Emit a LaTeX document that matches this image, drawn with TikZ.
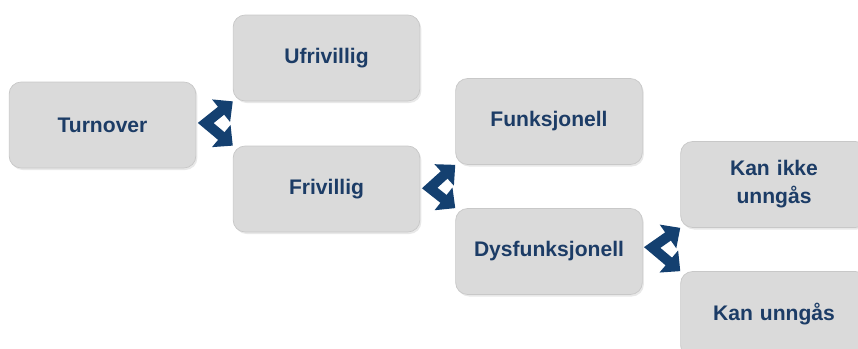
\documentclass[tikz,border=0pt]{standalone}
\usepackage{fontspec}
\setmainfont{Liberation Sans}
\usetikzlibrary{shapes,arrows.meta,shadows}
\definecolor{boxgray}{RGB}{218,218,218}
\definecolor{boxline}{RGB}{200,200,200}
\definecolor{textnavy}{RGB}{28,60,102}
\definecolor{arrownavy}{RGB}{20,64,112}
\tikzstyle{block} = [rectangle, draw=boxline, fill=boxgray, text=textnavy,
    font=\fontsize{12}{16}\selectfont\bfseries, text width=3.5cm, text centered,
    rounded corners=0.24cm, minimum width=3.7cm, minimum height=1.72cm,
    drop shadow={opacity=0.18, shadow xshift=0.03cm, shadow yshift=-0.04cm}]
\tikzstyle{line} = [draw=arrownavy, line width=0.2cm, line join=miter,
    {Triangle[length=0.3cm,width=0.56cm]}-{Triangle[length=0.3cm,width=0.56cm]}]

\begin{document}
\begin{tikzpicture}
    \useasboundingbox (0,0) rectangle (17.16,-6.98);

    \node [block] (turnover) at (2.05,-2.5) {Turnover};
    \node [block, right of=turnover, node distance=4.48cm, yshift=1.34cm] (ufrivillig) {Ufrivillig};
    \node [block, below of=ufrivillig, node distance=2.62cm] (frivillig) {Frivillig};
    \node [block, right of=frivillig, node distance=4.45cm, yshift=1.35cm] (funksjonell) {Funksjonell};
    \node [block, below of=funksjonell, node distance=2.6cm] (dysfunksjonell) {Dysfunksjonell};
    \node [block, right of=dysfunksjonell, node distance=4.5cm, yshift=1.34cm] (kanikke) {Kan ikke\\unngås};
    \node [block, below of=kanikke, node distance=2.6cm] (kan) {Kan unngås};

    % knekkpunkt for pilene
    \coordinate [xshift=0.19cm, yshift=0.04cm] (v1) at (turnover.east);
    \coordinate [xshift=0.19cm, yshift=0.02cm] (v2) at (frivillig.east);
    \coordinate [xshift=0.19cm, yshift=0.08cm] (v3) at (dysfunksjonell.east);

    \path [line] (ufrivillig.south west) -- (v1) -- (frivillig.north west);
    \path [line] (funksjonell.south west) -- (v2) -- (dysfunksjonell.north west);
    \path [line] (kanikke.south west) -- (v3) -- (kan.north west);

\end{tikzpicture}
\end{document}
